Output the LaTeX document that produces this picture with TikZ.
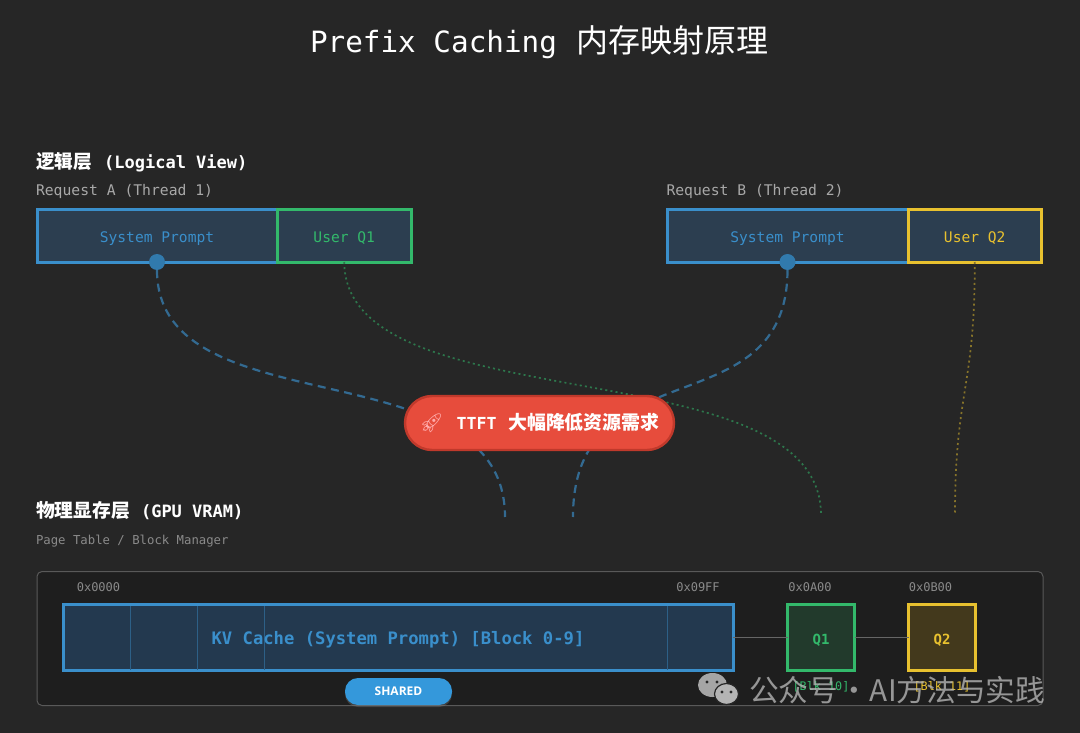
\documentclass[tikz,border=0pt]{standalone}
\usepackage{fontspec}
\setmainfont{Open Sans}
\setmonofont{DejaVu Sans Mono}
\newfontfamily\cjk{Noto Sans CJK SC}
\newfontfamily\emojifont{Noto Emoji}
\usetikzlibrary{positioning,shadows}
\definecolor{bgdark}{HTML}{262626}
\definecolor{paneldark}{HTML}{1E1E1E}
\definecolor{segfill}{HTML}{2C3E50}
\definecolor{kvfill}{HTML}{23394F}
\definecolor{blueline}{HTML}{3A8FCB}
\definecolor{greenline}{HTML}{33B96B}
\definecolor{yellowline}{HTML}{E8C12F}
\definecolor{q2fill}{HTML}{43391C}
\definecolor{sharedblue}{HTML}{3498DB}
\definecolor{redpill}{HTML}{E74C3C}
\definecolor{redrim}{HTML}{C0392B}
\definecolor{subgray}{HTML}{A8A8A8}
\definecolor{addrgray}{HTML}{8A8A8A}
\definecolor{markgray}{HTML}{B4B4B4}
\newcommand{\pxfont}[1]{\fontsize{#1}{#1}\selectfont}
\tikzset{
  seg node/.style={draw, line width=3pt, fill=segfill, outer sep=0pt, inner sep=0pt, minimum height=52.5pt, text height=15pt, text depth=2pt, font=\ttfamily\pxfont{14.6}},
  block node/.style={draw, line width=3pt, outer sep=0pt, inner sep=0pt, minimum width=67pt, minimum height=66pt, text height=14pt, text depth=1pt, font=\ttfamily\bfseries\pxfont{14}},
  dot node/.style={circle, fill=blueline!85!black, inner sep=0pt, minimum size=16pt},
  addr node/.style={text=addrgray, font=\ttfamily\pxfont{12}},
  blk node/.style={font=\ttfamily\pxfont{11.8}},
  head node/.style={anchor=west, text=white, font=\ttfamily\bfseries\pxfont{17}},
  sub node/.style={anchor=west, font=\ttfamily},
  shared link/.style={draw=blueline!65!bgdark, line width=2.2pt, dash pattern=on 8pt off 5.5pt},
  user link/.style={line width=1.7pt, dash pattern=on 2pt off 3.2pt}
}
\begin{document}
\begin{tikzpicture}[x=1pt, y=-1pt]
  \fill[bgdark] (0,0) rectangle (1080,733);

  % title and headings
  \node (title) at (539.5,42) {\color{white}\ttfamily\pxfont{29.3}Prefix Caching\hspace{20pt}{\cjk\pxfont{32}内存映射原理}};
  \node[head node] (logical) at (32.5,162) {{\cjk\bfseries\pxfont{18.7}逻辑层}\hspace{12pt}(Logical View)};
  \node[sub node, text=subgray, font=\ttfamily\pxfont{14.7}] (reqA) at (32.5,191) {Request A (Thread 1)};
  \node[sub node, text=subgray, font=\ttfamily\pxfont{14.7}] (reqB) at (663,191) {Request B (Thread 2)};
  \node[head node] (physical) at (32.5,511) {{\cjk\bfseries\pxfont{18.8}物理显存层}\hspace{11pt}(GPU VRAM)};
  \node[sub node, text=addrgray, font=\ttfamily\pxfont{12.3}] (pagetable) at (32.5,541) {Page Table / Block Manager};

  % logical view
  \node[seg node, draw=blueline, text=blueline, minimum width=240pt, anchor=north west] (sysA) at (37,209.5) {System Prompt};
  \node[seg node, draw=greenline, text=greenline, minimum width=134.5pt, right=0pt of sysA] (userA) {User Q1};
  \node[seg node, draw=blueline, text=blueline, minimum width=241pt, anchor=north west] (sysB) at (667,209.5) {System Prompt};
  \node[seg node, draw=yellowline, text=yellowline, minimum width=133.5pt, right=0pt of sysB] (userB) {User Q2};
  \node[dot node] (dotA) at (sysA.south) {};
  \node[dot node] (dotB) at (sysB.south) {};

  % physical layer
  \node[draw=gray!70!black, fill=paneldark, line width=1pt, rounded corners=5pt, minimum width=1006pt, minimum height=134pt, anchor=north west, inner sep=0pt] (panel) at (36.5,571) {};
  \node[draw=blueline, fill=kvfill, line width=3pt, outer sep=0pt, inner sep=0pt, minimum width=670pt, minimum height=66pt, anchor=north west] (kv) at (63,604.5) {};
  \foreach \x in {130,197,264,667}
    \draw[blueline!45!kvfill, line width=.8pt] (\x,606) -- (\x,670);
  \node[text=blueline, font=\ttfamily\bfseries\pxfont{17.2}, yshift=-2.5pt] (kvtext) at (kv.center) {KV Cache (System Prompt) [Block 0-9]};
  \node[block node, draw=greenline, fill=greenline!18!paneldark, text=greenline, anchor=north west] (q1) at (787.5,604.5) {Q1};
  \node[block node, draw=yellowline, fill=q2fill, text=yellowline, anchor=north west] (q2) at (908.5,604.5) {Q2};
  \draw[gray!80!black, line width=1pt] (kv) -- (q1);
  \draw[gray!80!black, line width=1pt] (q1) -- (q2);
  \node[addr node] (addr0) at (98.5,587) {0x0000};
  \node[addr node] (addr9) at (698,587) {0x09FF};
  \node[addr node] (addrA) at (810,587) {0x0A00};
  \node[addr node] (addrB) at (930.5,587) {0x0B00};
  \node[blk node, text=greenline] (blk10) at (821,686.5) {[Blk 10]};
  \node[blk node, text=yellowline] (blk11) at (942,686.5) {[Blk 11]};
  \node[fill=sharedblue, rounded corners=13pt, minimum width=107pt, minimum height=27pt, inner sep=0pt, text=white, font=\bfseries\pxfont{12}, drop shadow={opacity=.35, shadow xshift=0pt, shadow yshift=-2pt}] (shared) at (398.5,691.5) {SHARED};

  % links, the pill goes over them
  \coordinate (endA) at (505,517);
  \coordinate (endB) at (573,517);
  \coordinate (endQ1) at (821,515);
  \coordinate (endQ2) at (955,515);
  \draw[shared link] (dotA.south) .. controls (157,430) and (505,345) .. (endA);
  \draw[shared link] (dotB.south) .. controls (787,430) and (573,345) .. (endB);
  \draw[user link, draw=greenline!55!bgdark] (userA.south) .. controls (345,425) and (821,345) .. (endQ1);
  \draw[user link, draw=yellowline!50!bgdark] (userB.south) .. controls (975,390) and (955,390) .. (endQ2);
  \node[draw=redrim, fill=redpill, line width=2.4pt, rounded corners=27pt, minimum width=269pt, minimum height=54pt, inner sep=0pt, text=white] (ttft) at (539.5,423) {{\emojifont\pxfont{19}\color{pink!90!red}🚀}\hspace{13pt}{\ttfamily\bfseries\pxfont{16.6}TTFT}\hspace{11.5pt}{\cjk\bfseries\pxfont{18.9}大幅降低资源需求}};

  % watermark
  \fill[markgray, opacity=.9] (712.5,685) ellipse (14.5 and 12);
  \draw[bgdark, fill=markgray, line width=1.2pt] (726.5,694) ellipse (12 and 10.5);
  \foreach \x/\y in {707/682, 717/682, 722/692, 731/692}
    \fill[bgdark] (\x,\y) circle (1.7);
  \node[anchor=west, text=markgray, opacity=.8, inner sep=0pt, font=\cjk\pxfont{29.7}] (mark) at (749,690) {公众号\hspace{1pt}·\hspace{1pt}AI方法与实践};
\end{tikzpicture}
\end{document}
